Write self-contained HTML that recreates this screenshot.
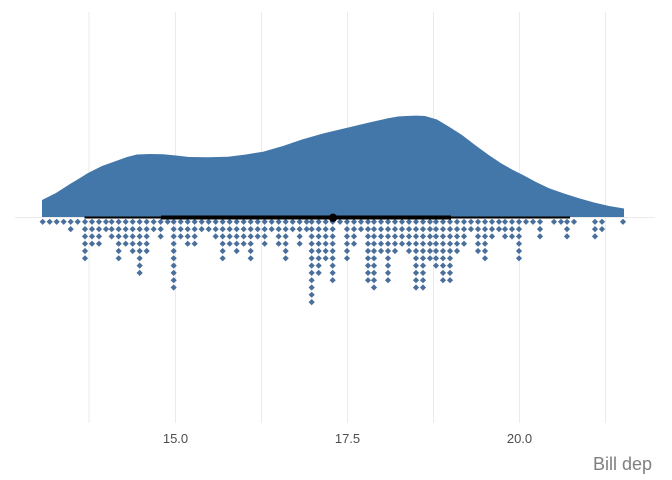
<!DOCTYPE html>
<html><head><meta charset="utf-8"><style>
html,body{margin:0;padding:0;background:#fff;}
svg{display:block;font-family:"Liberation Sans",Arial,sans-serif;}
</style></head><body>
<svg id="s" width="672" height="480" viewBox="0 0 672 480" xmlns="http://www.w3.org/2000/svg">
<g stroke="#ebebeb" stroke-width="1">
<line x1="89" y1="12" x2="89" y2="423"/>
<line x1="175.5" y1="12" x2="175.5" y2="423"/>
<line x1="261.5" y1="12" x2="261.5" y2="423"/>
<line x1="347.5" y1="12" x2="347.5" y2="423"/>
<line x1="433.5" y1="12" x2="433.5" y2="423"/>
<line x1="519.5" y1="12" x2="519.5" y2="423"/>
<line x1="605.5" y1="12" x2="605.5" y2="423"/>
<line x1="15" y1="217.5" x2="655" y2="217.5"/>
</g>
<path fill="#4477a9" d="M42,217 L42,200 L56,193 L70,184 L80,178 L88,173 L102,166 L116,161 L127,157 L137,154.5 L150,154 L163,154.3 L176,155.5 L189,157 L208,157.3 L228,156.7 L246,154.5 L263,151.7 L283,146 L302,139.5 L323,133.5 L345,128.3 L367,123 L388,118.3 L398,116.5 L406,116 L416,115.6 L425,116 L437,119.5 L449,126.7 L462,135 L475,145 L488,154.5 L501,163.3 L512,169.5 L523,175 L536,182 L549,188.3 L564,193.5 L579,198.3 L594,202.5 L609,206 L624,208.5 L624,217 Z"/>
<g id="dots" fill="#4b6f9b"></g>
<line x1="84.5" y1="217.5" x2="570" y2="217.5" stroke="#000" stroke-width="2"/>
<line x1="161" y1="217.5" x2="451" y2="217.5" stroke="#000" stroke-width="4"/>
<circle cx="333" cy="217.8" r="4.2" fill="#000"/>
<g fill="#4d4d4d" font-size="13" text-anchor="middle">
<text x="175.5" y="443">15.0</text>
<text x="347.5" y="443">17.5</text>
<text x="519.5" y="443">20.0</text>
</g>
<text x="652" y="470" font-size="18" fill="#7f7f7f" text-anchor="end">Bill dep</text>
</svg>
<script>
var c1=[[38,1],[59,1],[80,1],[101,1],[122,2],[143,1],[165,6],[186,4],[207,4],[228,2],[245,3],[266,6],[287,4],[308,5],[329,8],[350,5],[371,2],[392,3],[413,1],[431,10],[452,3],[473,4],[494,4],[515,2],[536,2],[557,3],[578,6],[599,4],[620,5],[641,4],[662,6],[683,3],[704,4],[725,2],[746,4],[767,6],[788,2],[809,4],[830,2],[845,12],[866,8],[887,6],[908,9]];
var c2=[[30,1],[51,6],[72,4],[93,2],[114,9],[132,10],[153,5],[174,9],[195,5],[216,4],[237,5],[258,10],[279,10],[300,6],[318,7],[339,9],[360,9],[381,5],[402,4],[423,2],[444,5],[465,6],[486,3],[507,2],[525,3],[546,3],[567,6],[588,1],[609,1],[630,3],[672,1],[693,1],[711,3],[732,1],[795,3],[816,2],[879,1]];
var g=document.getElementById('dots'),h='';
function add(x,n){for(var k=0;k<n;k++){var y=221.8+7.3*k;var r=3.1;h+='<path d="M'+x+','+(y-r)+' L'+(x+r)+','+y+' L'+x+','+(y+r)+' L'+(x-r)+','+y+' Z"/>';}}
c1.forEach(function(a){add(30+a[0]/3,a[1]);});
c2.forEach(function(a){add(330+a[0]/3,a[1]);});
g.innerHTML=h;
</script>
</body></html>
